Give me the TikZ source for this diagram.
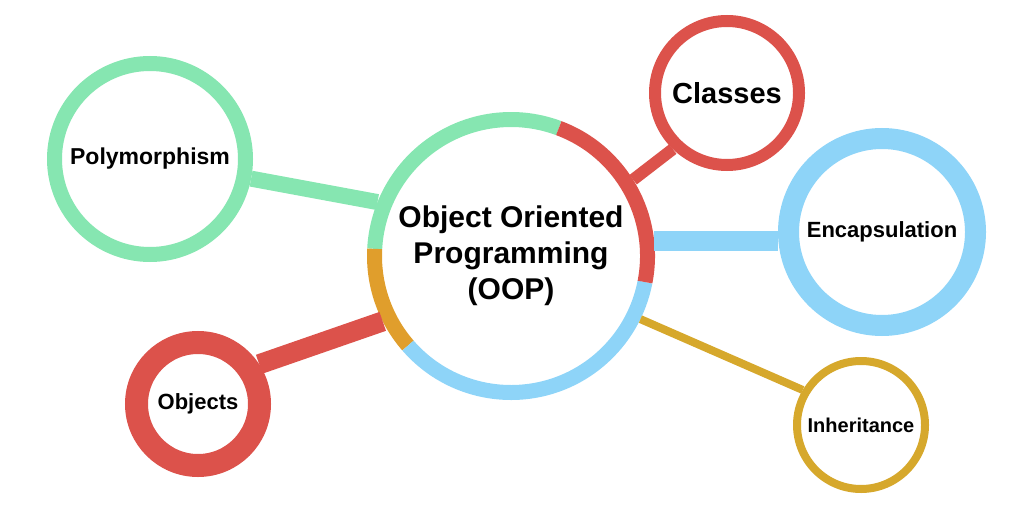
\documentclass[tikz,border=0pt]{standalone}
\usepackage{fontspec}
\setmainfont{Liberation Sans}
\usetikzlibrary{calc}
\definecolor{mint}{HTML}{86E6B1}
\definecolor{tomato}{HTML}{DC524B}
\definecolor{sky}{HTML}{8ED4F8}
\definecolor{amber}{HTML}{E09E2C}
\definecolor{gold}{HTML}{D6A82C}

\begin{document}
\begin{tikzpicture}[x=1pt, y=1pt, topic/.style={draw, circle, fill=white, text=black, inner sep=0pt, font=\bfseries}, hub/.style={circle, inner sep=0pt, minimum size=273pt, outer sep=7.5pt, align=center, font=\bfseries\fontsize{30}{36}\selectfont}, link/.style={line cap=butt}]
                \useasboundingbox (0,0) rectangle (1024,512);
                % nodes
                \node[hub]                                                      (oop)  at (511,256) {Object Oriented\\Programming\\(OOP)};
                \node[topic, draw=mint, line width=15pt, minimum size=191pt]    (poly) at (150,353) {\fontsize{23}{26}\selectfont Polymorphism};
                \node[topic, draw=tomato, line width=23pt, minimum size=123pt]  (obj)  at (198,108) {\fontsize{22}{26}\selectfont Objects};
                \node[topic, draw=tomato, line width=12pt, minimum size=144pt]  (cls)  at (727,419) {\fontsize{29}{32}\selectfont Classes};
                \node[topic, draw=sky, line width=21pt, minimum size=187pt]     (enc)  at (882,280) {\fontsize{22}{26}\selectfont Encapsulation};
                \node[topic, draw=gold, line width=8pt, minimum size=128pt]     (inh)  at (861,87)  {\fontsize{20}{24}\selectfont Inheritance};
                % ring of the hub
                \draw[mint, line width=15pt]   ($(oop)+(69.5:136.5)$) arc[start angle=69.5, end angle=177, radius=136.5];
                \draw[amber, line width=15pt]  ($(oop)+(177:136.5)$) arc[start angle=177, end angle=221, radius=136.5];
                \draw[sky, line width=15pt]    ($(oop)+(221:136.5)$) arc[start angle=221, end angle=349, radius=136.5];
                \draw[tomato, line width=15pt] ($(oop)+(-11:136.5)$) arc[start angle=-11, end angle=69.5, radius=136.5];
                % edges
                \draw[link, mint, line width=16pt]   (poly.-11.6) -- (oop.158.7);
                \draw[link, tomato, line width=20pt] (obj.33) -- (oop.207);
                \draw[link, tomato, line width=12pt] (cls.226) -- (oop.32.6);
                \draw[link, sky, line width=20pt]    (oop.6) -- (oop.6 -| enc.west);
                \draw[link, gold, line width=8pt]    (oop.-26) -- (inh.149);
            \end{tikzpicture}
\end{document}
